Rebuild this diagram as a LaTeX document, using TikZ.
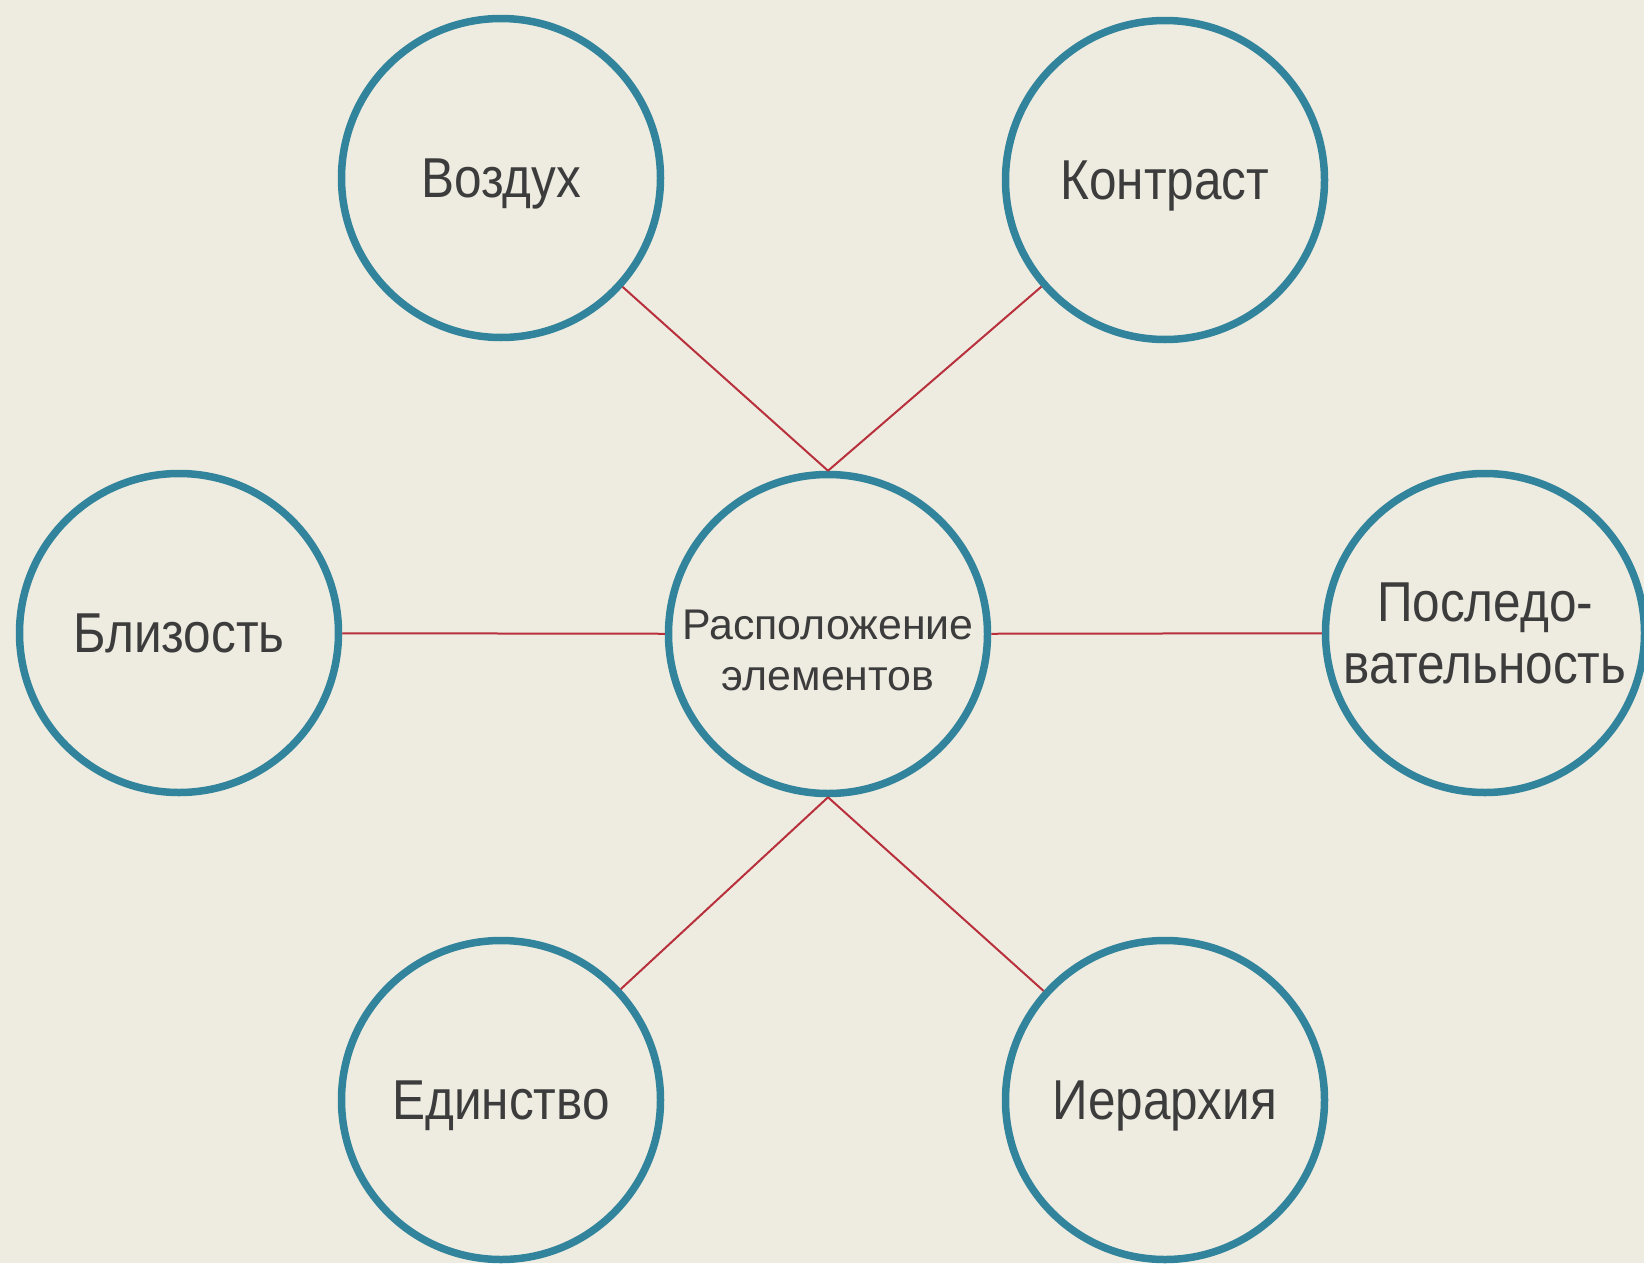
\documentclass[tikz,border=0pt]{standalone}
\usepackage{fontspec}
\setmainfont{Liberation Sans}
\newfontfamily\narrowsans[FakeStretch=0.88]{Liberation Sans}
\definecolor{bgcol}{HTML}{EEECE1}
\definecolor{ringcol}{HTML}{31849B}
\definecolor{linkcol}{HTML}{B8303C}
\definecolor{txtcol}{HTML}{3C3C3C}
\tikzstyle{topic}=[circle,draw=ringcol,line width=0.75mm,minimum size=3.19cm,inner sep=0pt,text=txtcol,align=center,text depth=0pt,font=\narrowsans\fontsize{16}{17.5}\selectfont]
\tikzstyle{hubtext}=[text=txtcol,align=center,font=\fontsize{12.2}{14.5}\selectfont]
\tikzstyle{link}=[draw=linkcol,line width=0.2mm]

\begin{document}
\begin{tikzpicture}[x=0.1mm,y=-0.1mm]
    \useasboundingbox (0,0) rectangle (1644,1263);
    \fill[bgcol] (0,0) rectangle (1644,1263);
    \node[topic] (vozd)  at (501,178)  {Воздух};
    \node[topic] (kontr) at (1165,180) {Контраст};
    \node[topic] (bliz)  at (179,633)  {Близость};
    \node[topic,label={[hubtext,yshift=-1.6mm]center:Расположение\\элементов}] (hub) at (828,634) {};
    \node[topic] (posl)  at (1485,633) {Последо-\\вательность};
    \node[topic] (edin)  at (501,1100) {Единство};
    \node[topic] (ierar) at (1165,1100) {Иерархия};

    \foreach \from/\to in {vozd/hub.north,kontr/hub.north,bliz/hub,hub/posl,edin/hub.south,ierar/hub.south}
    \draw[link] (\from) -- (\to);
\end{tikzpicture}
\end{document}
